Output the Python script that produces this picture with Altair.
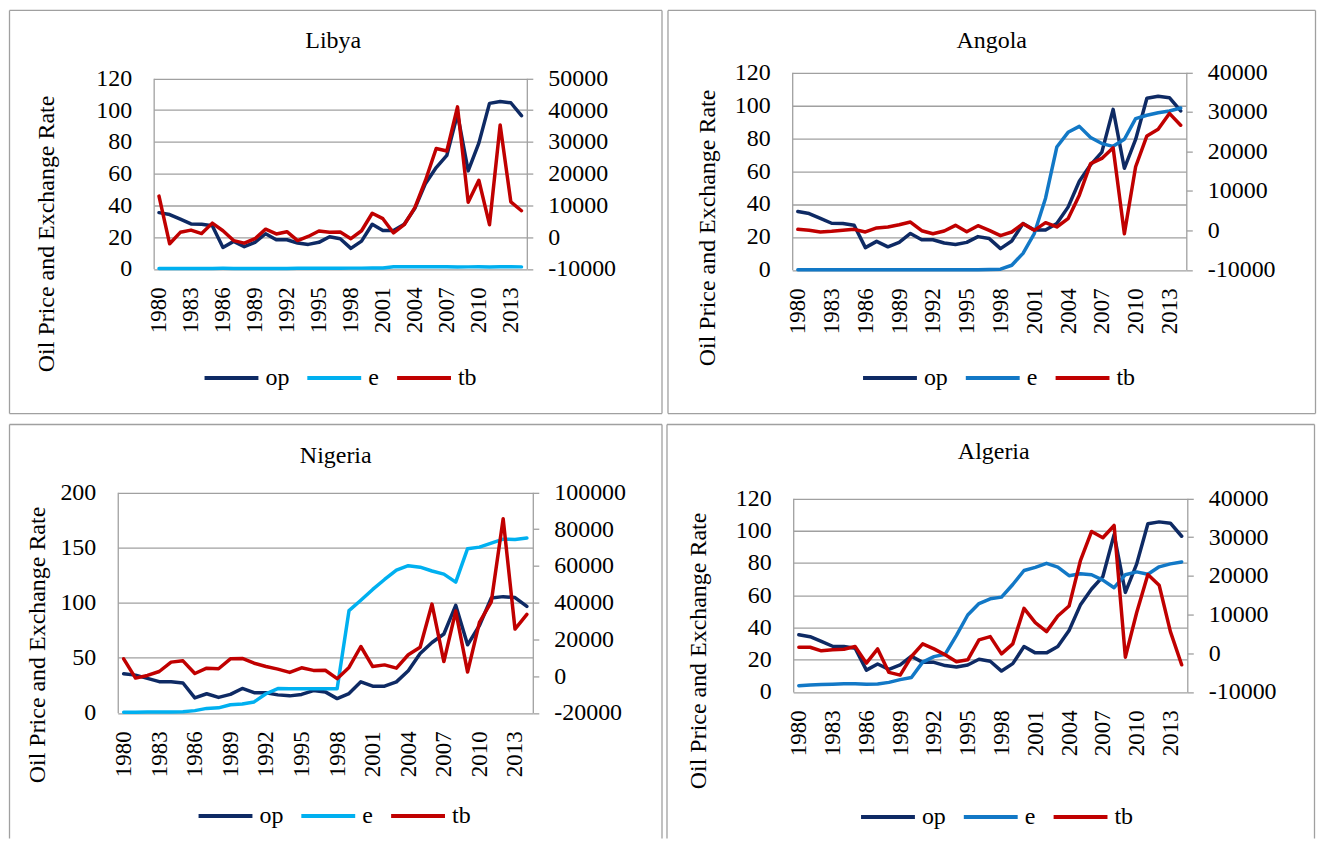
import altair as alt
import pandas as pd

years = list(range(1980, 2015))
series_names = ["op", "e", "tb"]

# oil price (same in all four panels)
op = [35.4, 34.2, 31.3, 28.3, 28.1, 27.1, 13.5, 17.3, 14.0, 16.7,
      22.1, 18.3, 18.3, 16.3, 15.4, 16.7, 20.2, 19.0, 12.9, 17.5,
      28.1, 24.2, 24.2, 28.1, 38.1, 53.8, 63.8, 71.5, 97.5, 61.7,
      79.2, 104.2, 105.4, 104.6, 96.5]

libya_e = [0.30, 0.30, 0.30, 0.30, 0.30, 0.30, 0.31, 0.28, 0.29, 0.30,
           0.29, 0.28, 0.30, 0.32, 0.36, 0.35, 0.36, 0.38, 0.46, 0.46,
           0.51, 0.61, 1.27, 1.29, 1.31, 1.31, 1.31, 1.26, 1.22, 1.25,
           1.27, 1.22, 1.26, 1.27, 1.25]
libya_tb = [12900, -2100, 1500, 2200, 1100, 4400, 2000, -1100, -1900, -500,
            2500, 1000, 1700, -1100, 200, 1900, 1500, 1600, -500, 2000,
            7500, 5800, 1300, 3900, 9300, 17900, 27900, 27100, 41000, 11000,
            17900, 3900, 35300, 11100, 8300]

angola_e = [0, 0, 0, 0, 0, 0, 0, 0, 0, 0,
            0, 0, 0, 0, 0.001, 0.003, 0.13, 0.23, 0.39, 2.79,
            10.04, 22.06, 43.53, 74.61, 83.54, 87.16, 80.37, 76.71, 75.03, 79.33,
            91.91, 93.93, 95.47, 96.52, 98.30]
angola_tb = [250, 0, -400, -250, 0, 250, -400, 600, 850, 1400,
             2100, -100, -850, -170, 1270, -340, 1180, 0, -1350, -420,
             1700, 0, 1950, 850, 2960, 8900, 16900, 18200, 20900, -850,
             16100, 23900, 25600, 29600, 26600]

nigeria_e = [0.55, 0.61, 0.67, 0.72, 0.77, 0.89, 2.02, 4.02, 4.54, 7.39,
             8.04, 9.91, 17.30, 22.05, 21.89, 21.89, 21.89, 21.89, 21.89, 92.69,
             102.11, 111.94, 120.97, 129.36, 133.50, 132.15, 128.65, 125.83, 118.55, 148.90,
             150.30, 153.86, 157.50, 157.31, 158.55]
nigeria_tb = [9400, -1100, 360, 2500, 7600, 8300, 1400, 4300, 4000, 9400,
              9600, 7000, 5200, 3800, 2000, 4500, 3100, 3200, -1400, 4700,
              16100, 5200, 6100, 4300, 11600, 15700, 39200, 7900, 35400, 2200,
              29200, 40400, 85600, 25600, 33600]

algeria_e = [3.84, 4.32, 4.59, 4.79, 4.98, 5.03, 4.70, 4.85, 5.91, 7.61,
             8.96, 18.47, 21.84, 23.35, 35.06, 47.66, 54.75, 57.71, 58.74, 66.57,
             75.26, 77.22, 79.68, 77.39, 72.06, 73.28, 72.65, 69.29, 64.58, 72.65,
             74.39, 72.94, 77.54, 79.37, 80.58]
algeria_tb = [1540, 1540, 600, 860, 1030, 1710, -2570, 1110, -4970, -5660,
              -860, 2400, 1110, -430, -2230, -1710, 3430, 4280, -170, 2400,
              11570, 7880, 5570, 9600, 12170, 23820, 31450, 29820, 32990, -1030,
              10450, 20310, 17570, 5570, -3000]

left_ticks_120 = [0, 20, 40, 60, 80, 100, 120]
left_ticks_200 = [0, 50, 100, 150, 200]
libya_right_ticks = [-10000, 0, 10000, 20000, 30000, 40000, 50000]
angola_right_ticks = [-10000, 0, 10000, 20000, 30000, 40000]
nigeria_right_ticks = [-20000, 0, 20000, 40000, 60000, 80000, 100000]
algeria_right_ticks = [-10000, 0, 10000, 20000, 30000, 40000]
year_ticks = years[::3]

FONT = "Liberation Serif"
GRID = "#A0A0A0"
OP_COLOR = "#0E2A64"
TB_COLOR = "#C00000"


def panel(name, e_vals, tb_vals, e_color, left_ticks, right_ticks,
          W, H, plot, closed, title_dx, title_base, ytx, yty, lgx, lgy):
    # W, H: panel (frame) size; plot: (left, right, top, bottom) inside the frame
    pl, pr, pt, pb = plot
    df = pd.DataFrame({
        "year": years * 3,
        "series": ["op"] * 35 + ["e"] * 35 + ["tb"] * 35,
        "value": op + e_vals + tb_vals,
    })
    legend = alt.Legend(
        orient="none", legendX=lgx, legendY=lgy, direction="horizontal",
        title=None, symbolType="stroke", symbolSize=2916, symbolStrokeWidth=4,
        labelFont=FONT, labelFontSize=24, labelColor="black", labelOffset=5,
        columnPadding=10, padding=0,
    )
    color = alt.Color("series:N", sort=series_names,
                      scale=alt.Scale(domain=series_names,
                                      range=[OP_COLOR, e_color, TB_COLOR]),
                      legend=legend)
    x = alt.X("year:O", scale=alt.Scale(type="point", padding=0.5, range=[pl, pr]),
              axis=alt.Axis(values=year_ticks, labelAngle=270, ticks=False,
                            domain=False, grid=False, labelPadding=18,
                            offset=pb - H,
                            labelFont=FONT, labelFontSize=23,
                            labelColor="black", title=None))
    left = alt.Chart(df).transform_filter(
        alt.FieldOneOfPredicate(field="series", oneOf=["op", "e"])
    ).mark_line(strokeWidth=3.5, strokeJoin="round", strokeCap="round").encode(
        x=x,
        y=alt.Y("value:Q",
                scale=alt.Scale(domain=[left_ticks[0], left_ticks[-1]], nice=False,
                                zero=False, range=[pb, pt]),
                axis=alt.Axis(orient="left", values=left_ticks, grid=True,
                              gridColor=GRID, gridWidth=1.3, domain=True,
                              domainColor=GRID, domainWidth=1.3, offset=-pl,
                              ticks=False, labelPadding=22, labelFont=FONT,
                              labelFontSize=24, labelColor="black",
                              title="Oil Price and Exchange Rate",
                              titleFont=FONT, titleFontSize=24,
                              titleFontWeight="normal", titleColor="black",
                              titleAngle=270, titleX=ytx, titleY=yty,
                              titleAlign="center", titleBaseline="middle")),
        color=color,
        detail="series:N",
    )
    right = alt.Chart(df).transform_filter(
        alt.FieldEqualPredicate(field="series", equal="tb")
    ).mark_line(strokeWidth=3.5, strokeJoin="round", strokeCap="round").encode(
        x=x,
        y=alt.Y("value:Q",
                scale=alt.Scale(domain=[right_ticks[0], right_ticks[-1]], nice=False,
                                zero=False, range=[pb, pt]),
                axis=alt.Axis(orient="right", values=right_ticks, grid=False,
                              domain=True, domainColor=GRID, domainWidth=1.3,
                              offset=pr - W,
                              ticks=True, tickSize=6,
                              tickColor=GRID, tickWidth=1.3, labelPadding=15,
                              labelExpr="'' + datum.value",
                              labelFont=FONT, labelFontSize=24,
                              labelColor="black", title=None)),
        color=color,
    )
    one = pd.DataFrame({"k": [0]})
    base = alt.Chart(one)
    x1, x2, y1, y2 = 0.5, W - 0.5, 0.5, H - 0.5
    edges = [
        base.mark_rule(color=GRID, strokeWidth=1.3).encode(
            x=alt.value(x1), y=alt.value(y1), y2=alt.value(y2)),
        base.mark_rule(color=GRID, strokeWidth=1.3).encode(
            x=alt.value(x2), y=alt.value(y1), y2=alt.value(y2)),
        base.mark_rule(color=GRID, strokeWidth=1.3).encode(
            x=alt.value(x1), x2=alt.value(x2), y=alt.value(y1)),
    ]
    if closed:
        edges.append(base.mark_rule(color=GRID, strokeWidth=1.3).encode(
            x=alt.value(x1), x2=alt.value(x2), y=alt.value(y2)))
    return alt.layer(*edges, left, right).resolve_scale(y="independent").properties(
        width=W, height=H,
        title=alt.TitleParams(text=name, font=FONT, fontSize=24,
                              fontWeight="normal", color="black",
                              anchor="middle", frame="group", baseline="alphabetic",
                              dx=title_dx, offset=-title_base),
    )


libya = panel("Libya", libya_e, libya_tb, "#00B0F0", left_ticks_120, libya_right_ticks,
              655, 405, (145, 519, 68.5, 259.5), True, -2.5, 62, -107, 224, 194, 340)
angola = panel("Angola", angola_e, angola_tb, "#1278C6", left_ticks_120, angola_right_ticks,
               650, 405, (125, 520, 62.5, 260.5), True, 0, 62, -85, 218, 194, 340)
nigeria = panel("Nigeria", nigeria_e, nigeria_tb, "#00B0F0", left_ticks_200, nigeria_right_ticks,
                655, 416, (109, 525, 68.5, 289.5), False, 0, 63, -80, 221, 188, 364)
algeria = panel("Algeria", algeria_e, algeria_tb, "#1278C6", left_ticks_120, algeria_right_ticks,
                650, 416, (127, 522, 74.5, 268.5), False, 3, 59, -95, 227, 193, 365)

top = alt.hconcat(libya, angola, spacing=3).resolve_scale(color="independent").resolve_legend(color="independent")
bottom = alt.hconcat(nigeria, algeria, spacing=2).resolve_scale(color="independent").resolve_legend(color="independent")
chart = alt.vconcat(top, bottom, spacing=8).resolve_scale(color="independent").resolve_legend(
    color="independent").properties(padding=0).configure_view(stroke=None)

chart.save("out.html", embed_options={"renderer": "svg", "actions": False})
